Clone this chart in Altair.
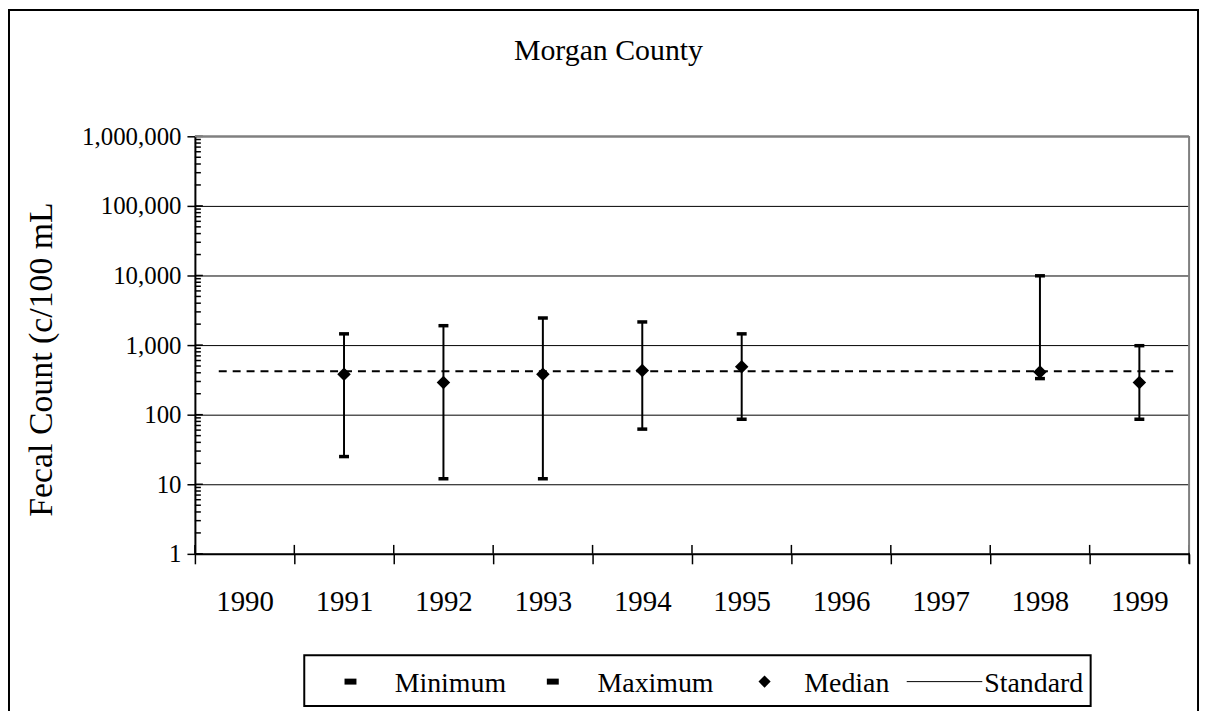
import altair as alt
import pandas as pd

# ---------------- data ----------------
years = ["1990", "1991", "1992", "1993", "1994", "1995", "1996", "1997", "1998", "1999"]
data_years = ["1991", "1992", "1993", "1994", "1995", "1998", "1999"]
minimum = [25, 12, 12, 62, 86, 330, 86]
maximum = [1450, 1900, 2450, 2150, 1450, 9900, 980]
median = [380, 290, 380, 430, 490, 410, 290]
standard = [420]
y_major = [1, 10, 100, 1000, 10000, 100000, 1000000]
legend_labels = ["Minimum", "Maximum", "Median", "Standard"]
title_text = "Morgan County"
y_title = "Fecal Count (c/100 mL"

FONT = "Liberation Serif"
W, H = 1000, 420

df = pd.DataFrame({"year": data_years, "min": minimum, "max": maximum, "median": median})
std_df = pd.DataFrame({"std": standard})
major_df = pd.DataFrame({"v": y_major})
minor_df = pd.DataFrame({"v": [m * d for d in y_major[:-1] for m in range(2, 10)]})
years_df = pd.DataFrame({"year": years})
one = pd.DataFrame({"k": [0]})

# ---------------- scales / axes ----------------
x_scale = alt.Scale(domain=years, paddingInner=0, paddingOuter=0)
y_scale = alt.Scale(type="log", domain=[1, 1000000], nice=False)

x_axis = alt.Axis(
    title=None, tickBand="extent", labelFont=FONT, labelFontSize=29, labelColor="black",
    labelAngle=0, labelPadding=24, tickSize=10, tickColor="black", tickWidth=1.5,
    domainColor="black", domainWidth=2, grid=False,
)
y_axis = alt.Axis(
    title=y_title, values=y_major, format=",", labelFont=FONT, labelFontSize=25,
    labelColor="black", labelPadding=6, tickSize=8, tickColor="black", tickWidth=1.5,
    domainColor="black", domainWidth=2, grid=True, gridColor="black", gridWidth=1,
    titleFont=FONT, titleFontSize=34, titleFontWeight="normal", titleColor="black",
    titleX=-154, titleY=224, titleAngle=270, titleAlign="center", titleBaseline="middle",
)

X = alt.X("year:N", scale=x_scale, axis=x_axis)

# ---------------- data marks ----------------
bars = alt.Chart(df).mark_rule(color="black", strokeWidth=2).encode(
    x=X, y=alt.Y("min:Q", scale=y_scale, axis=y_axis), y2="max:Q"
)
cap_min = alt.Chart(df).mark_tick(color="black", size=10, thickness=3.5, opacity=1).encode(
    x=X, y=alt.Y("min:Q", scale=y_scale, axis=y_axis)
)
cap_max = alt.Chart(df).mark_tick(color="black", size=10, thickness=3.5, opacity=1).encode(
    x=X, y=alt.Y("max:Q", scale=y_scale, axis=y_axis)
)
med = alt.Chart(df).mark_point(shape="diamond", filled=True, color="black", size=185, opacity=1).encode(
    x=X, y=alt.Y("median:Q", scale=y_scale, axis=y_axis)
)
std_line = alt.Chart(std_df).mark_rule(color="black", strokeWidth=2, strokeDash=[8, 6]).encode(
    y=alt.Y("std:Q", scale=y_scale, axis=y_axis), x=alt.value(24), x2=alt.value(984)
)

# ---------------- axis decorations ----------------
inner_major = alt.Chart(major_df).mark_rule(color="black", strokeWidth=1.5).encode(
    y=alt.Y("v:Q", scale=y_scale, axis=y_axis), x=alt.value(0), x2=alt.value(8)
)
inner_minor = alt.Chart(minor_df).mark_rule(color="black", strokeWidth=1.5).encode(
    y=alt.Y("v:Q", scale=y_scale, axis=y_axis), x=alt.value(0), x2=alt.value(6)
)
inner_x = alt.Chart(years_df).mark_rule(color="black", strokeWidth=1.5).encode(
    x=alt.X("year:N", scale=x_scale, axis=x_axis, bandPosition=0),
    y=alt.value(H - 9), y2=alt.value(H),
)
inner_x_end = alt.Chart(one).mark_rule(color="black", strokeWidth=1.5).encode(
    x=alt.value(W), y=alt.value(H - 9), y2=alt.value(H + 10)
)
top_border = alt.Chart(one).mark_rule(color="#808080", strokeWidth=2).encode(
    x=alt.value(0), x2=alt.value(W), y=alt.value(0)
)
right_border = alt.Chart(one).mark_rule(color="#808080", strokeWidth=2).encode(
    x=alt.value(W), y=alt.value(0), y2=alt.value(H - 1)
)
outer = alt.Chart(one).mark_rect(fillOpacity=0, stroke="black", strokeWidth=2).encode(
    x=alt.value(-187), x2=alt.value(1009), y=alt.value(-127), y2=alt.value(700)
)
title = alt.Chart(one).mark_text(
    text=title_text, font=FONT, fontSize=30, color="black", align="center", baseline="alphabetic"
).encode(x=alt.value(416), y=alt.value(-77))

# ---------------- legend ----------------
leg_box = alt.Chart(one).mark_rect(fillOpacity=0, stroke="black", strokeWidth=2).encode(
    x=alt.value(110), x2=alt.value(901), y=alt.value(522), y2=alt.value(573)
)
leg_layers = [leg_box]
for cx in [156.5, 360]:
    leg_layers.append(
        alt.Chart(one).mark_rect(color="black").encode(
            x=alt.value(cx - 6), x2=alt.value(cx + 6), y=alt.value(545.5), y2=alt.value(551.5)
        )
    )
leg_layers.append(
    alt.Chart(one).mark_point(shape="diamond", filled=True, color="black", size=150, opacity=1).encode(
        x=alt.value(573), y=alt.value(548.5)
    )
)
leg_layers.append(
    alt.Chart(one).mark_rule(color="black", strokeWidth=1).encode(
        x=alt.value(716), x2=alt.value(792), y=alt.value(548.5)
    )
)
for label, lx in zip(legend_labels, [201, 405, 613, 794]):
    leg_layers.append(
        alt.Chart(one).mark_text(
            text=label, font=FONT, fontSize=28, color="black", align="left", baseline="alphabetic"
        ).encode(x=alt.value(lx), y=alt.value(559))
    )

chart = alt.layer(
    outer, bars, std_line, cap_min, cap_max, med,
    inner_major, inner_minor, inner_x, inner_x_end, top_border, right_border,
    title, *leg_layers,
).properties(
    width=W, height=H,
    autosize=alt.AutoSizeParams(type="none"),
    padding={"left": 188, "top": 127, "right": 12, "bottom": 156},
).configure_view(stroke=None).configure(background="white")

chart.save("out.html", embed_options={"renderer": "svg", "actions": False})
